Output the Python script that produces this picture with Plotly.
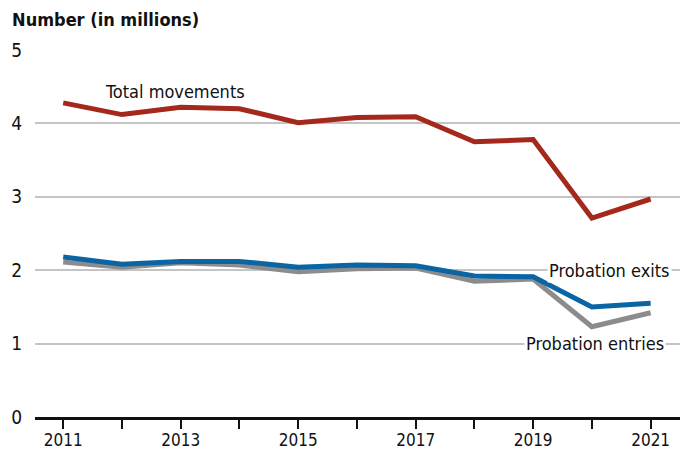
import plotly.graph_objects as go

years = list(range(2011, 2022))
total_movements = [4.28, 4.12, 4.22, 4.20, 4.01, 4.08, 4.09, 3.75, 3.78, 2.71, 2.97]
probation_exits = [2.18, 2.08, 2.12, 2.12, 2.04, 2.07, 2.06, 1.92, 1.91, 1.50, 1.55]
probation_entries = [2.11, 2.04, 2.10, 2.07, 1.98, 2.02, 2.03, 1.85, 1.88, 1.23, 1.42]
x_tick_labels = ["2011", "2013", "2015", "2017", "2019", "2021"]

FONT = "Liberation Sans Narrow, DejaVu Sans Condensed, Arial Narrow, sans-serif"

fig = go.Figure()
fig.add_trace(go.Scatter(x=years, y=probation_entries, mode="lines",
                         line=dict(color="#8c8c8c", width=5), name="Probation entries"))
fig.add_trace(go.Scatter(x=years, y=probation_exits, mode="lines",
                         line=dict(color="#0b64a4", width=5), name="Probation exits"))
fig.add_trace(go.Scatter(x=years, y=total_movements, mode="lines",
                         line=dict(color="#a5281d", width=5), name="Total movements"))

fig.add_annotation(x=2012.91, y=4.43, text="Total movements", showarrow=False,
                   xanchor="center", yanchor="middle", font=dict(size=18, color="#111", family=FONT))
fig.add_annotation(x=2021.37, y=2.0, text="Probation exits", showarrow=False,
                   xanchor="right", yanchor="middle", bgcolor="white", borderpad=1,
                   font=dict(size=18, color="#111", family=FONT))
fig.add_annotation(x=2021.26, y=1.0, text="Probation entries", showarrow=False,
                   xanchor="right", yanchor="middle", bgcolor="white", borderpad=1,
                   font=dict(size=18, color="#111", family=FONT))

# page body has an 8px margin, so the figure is sized/positioned to compensate
fig.update_layout(
    width=680, height=443,
    margin=dict(l=27, r=8, t=42, b=34, autoexpand=False),
    paper_bgcolor="white", plot_bgcolor="white",
    showlegend=False,
    font=dict(family=FONT, size=18, color="#111"),
    title=dict(text="<b>Number (in millions)</b>", x=0.006, xanchor="left",
               y=0.973, yanchor="middle", font=dict(size=18, family=FONT, color="#111")),
    xaxis=dict(range=[2010.52, 2021.5], tickmode="array", automargin=False,
               tickvals=years, ticktext=[str(y) if str(y) in x_tick_labels else "" for y in years],
               showgrid=False, showline=True, linecolor="#111", linewidth=3,
               ticks="outside", ticklen=9, tickwidth=2, tickcolor="#111",
               ticklabelstandoff=-3,
               tickfont=dict(size=17, family=FONT, color="#111"), zeroline=False),
    yaxis=dict(range=[0, 5], tickvals=[0, 1, 2, 3, 4, 5], showgrid=True, automargin=False,
               gridcolor="#c4c4c4", gridwidth=1.5, zeroline=False, showline=False,
               ticks="", ticklabelstandoff=12,
               tickfont=dict(size=19, family=FONT, color="#111")),
)

fig.write_html("out.html")
